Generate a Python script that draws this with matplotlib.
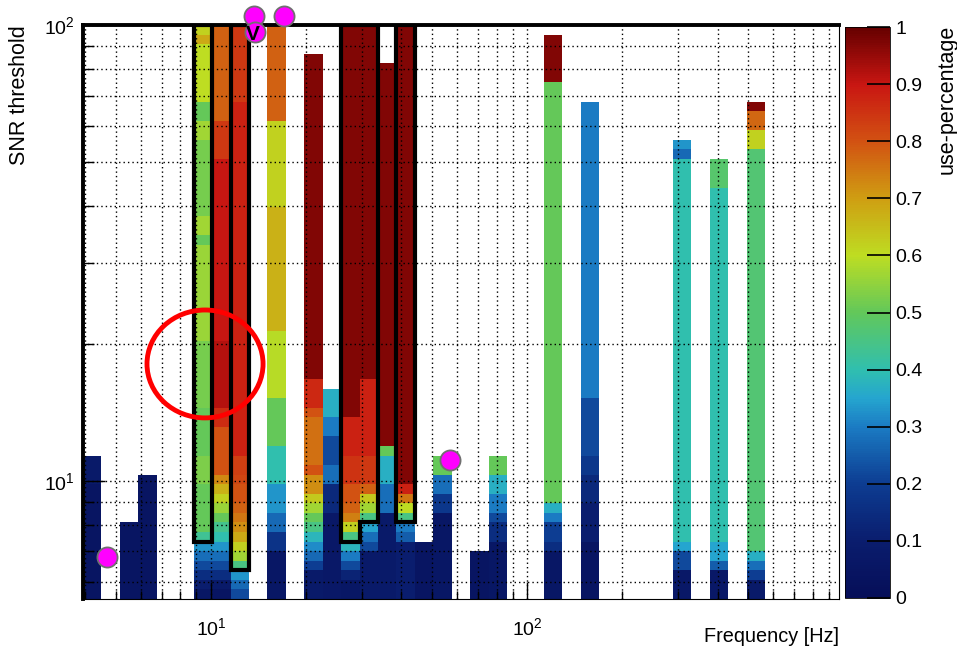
import numpy as np
import matplotlib
matplotlib.use('Agg')
import matplotlib.pyplot as plt
from matplotlib.colors import LinearSegmentedColormap
from matplotlib.patches import Ellipse, Polygon
from matplotlib.ticker import NullFormatter, FormatStrFormatter

plt.rcParams['font.family'] = ['Liberation Sans', 'DejaVu Sans']

# histogram binning (both axes log spaced)
f_lo, f_hi, n_fbins = 3.94, 968.0, 41
snr_lo, snr_hi, n_sbins = 5.5, 100.0, 60

# filled columns: (number of cells, use-percentage), from the lowest SNR bin upward
cells_b00 = [(12, 0.05), (3, 0.08)]
cells_b02 = [(8, 0.05)]
cells_b03 = [(13, 0.05)]
cells_b06 = [(1, 0.06), (1, 0.1), (1, 0.15), (1, 0.22), (1, 0.28), (1, 0.33), (1, 0.43),
             (5, 0.5), (3, 0.53), (5, 0.5), (7, 0.52), (10, 0.56), (1, 0.5), (2, 0.57),
             (8, 0.52), (2, 0.57), (2, 0.5), (6, 0.6), (1, 0.68), (1, 0.62)]
cells_b07 = [(1, 0.05), (1, 0.08), (1, 0.15), (1, 0.22), (1, 0.28), (1, 0.33), (1, 0.4),
             (1, 0.44), (1, 0.5), (1, 0.56), (1, 0.62), (1, 0.67), (1, 0.73), (5, 0.8),
             (2, 0.86), (7, 0.92), (19, 0.9), (4, 0.84), (10, 0.78)]
cells_b08 = [(1, 0.22), (1, 0.27), (1, 0.33), (1, 0.45), (1, 0.57), (1, 0.62), (1, 0.68),
             (1, 0.72), (1, 0.75), (1, 0.78), (2, 0.8), (1, 0.82), (2, 0.83), (37, 0.88),
             (8, 0.84)]
cells_b10 = [(5, 0.06), (2, 0.17), (2, 0.27), (3, 0.33), (4, 0.4), (5, 0.5), (7, 0.59),
             (13, 0.67), (9, 0.62), (10, 0.78)]
cells_b12 = [(3, 0.08), (1, 0.2), (1, 0.27), (1, 0.32), (1, 0.38), (1, 0.45), (1, 0.5),
             (1, 0.57), (1, 0.63), (2, 0.72), (1, 0.8), (5, 0.76), (1, 0.8), (3, 0.87),
             (34, 0.97)]
cells_b13 = [(9, 0.07), (3, 0.14), (2, 0.28), (3, 0.22), (2, 0.3), (3, 0.37)]
cells_b14 = [(2, 0.06), (1, 0.12), (1, 0.22), (1, 0.3), (1, 0.38), (1, 0.45), (1, 0.62),
             (1, 0.74), (1, 0.78), (2, 0.8), (3, 0.85), (4, 0.88), (41, 0.97)]
cells_b15 = [(5, 0.08), (1, 0.22), (1, 0.28), (1, 0.35), (1, 0.45), (1, 0.57), (1, 0.63),
             (1, 0.78), (3, 0.84), (8, 0.88), (37, 0.97)]
cells_b16 = [(9, 0.08), (3, 0.28), (3, 0.37), (1, 0.5), (40, 0.97)]
cells_b17 = [(6, 0.1), (1, 0.25), (1, 0.3), (1, 0.45), (1, 0.6), (1, 0.75), (1, 0.88),
             (48, 0.97)]
cells_b18 = [(6, 0.05)]
cells_b19 = [(9, 0.06), (2, 0.18), (2, 0.28), (2, 0.5)]
cells_b21 = [(5, 0.05)]
cells_b22 = [(6, 0.06), (2, 0.15), (1, 0.22), (2, 0.3), (2, 0.37), (2, 0.5)]
cells_b25 = [(5, 0.06), (1, 0.15), (2, 0.2), (1, 0.3), (1, 0.37), (44, 0.5), (5, 0.97)]
cells_b27 = [(6, 0.05), (4, 0.1), (3, 0.14), (2, 0.18), (6, 0.22), (31, 0.3)]
cells_b32 = [(3, 0.07), (2, 0.22), (1, 0.35), (40, 0.4), (1, 0.27), (1, 0.33)]
cells_b34 = [(3, 0.07), (1, 0.25), (2, 0.35), (37, 0.4), (3, 0.48)]
cells_b36 = [(2, 0.08), (1, 0.2), (1, 0.28), (1, 0.37), (42, 0.47), (2, 0.62), (2, 0.77),
             (1, 0.97)]

columns = {0: cells_b00, 2: cells_b02, 3: cells_b03, 6: cells_b06, 7: cells_b07,
           8: cells_b08, 10: cells_b10, 12: cells_b12, 13: cells_b13, 14: cells_b14,
           15: cells_b15, 16: cells_b16, 17: cells_b17, 18: cells_b18, 19: cells_b19,
           21: cells_b21, 22: cells_b22, 25: cells_b25, 27: cells_b27, 32: cells_b32,
           34: cells_b34, 36: cells_b36}

# highlighted regions: (frequency bin, first SNR bin inside the box)
box_1 = [(6, 6)]
box_2 = [(8, 3)]
box_3 = [(14, 6), (15, 8)]
box_4 = [(17, 8)]

# magenta markers (frequency, SNR)
dot_freq = [4.70, 13.7, 17.06, 13.8, 56.8]
dot_snr = [6.81, 104.6, 104.6, 96.5, 11.1]

# palette
pal_pos = [0.0, 0.1, 0.2, 0.3, 0.35, 0.4, 0.5, 0.6, 0.7, 0.8, 0.9, 1.0]
pal_col = ['#060e58', '#0a1d6e', '#0d3d92', '#1b7cc4', '#25a6cf', '#30bfae', '#62c85a',
           '#bedd22', '#cf9e12', '#d25212', '#c91612', '#660000']
cmap = LinearSegmentedColormap.from_list('usepct', list(zip(pal_pos, pal_col)))

f_edges = np.logspace(np.log10(f_lo), np.log10(f_hi), n_fbins + 1)
s_edges = np.logspace(np.log10(snr_lo), np.log10(snr_hi), n_sbins + 1)

Z = np.full((n_sbins, n_fbins), np.nan)
for b, cells in columns.items():
    vals = np.repeat([v for n, v in cells], [n for n, v in cells])
    Z[:len(vals), b] = vals
Z = np.ma.masked_invalid(Z)

fig = plt.figure(figsize=(9.57, 6.51), dpi=100)
ax = fig.add_axes([83/957, 52/651, 756/957, 574/651])
cax = fig.add_axes([845/957, 53/651, 45/957, 571/651])

mesh = ax.pcolormesh(f_edges, s_edges, Z, cmap=cmap, vmin=0, vmax=1,
                     shading='flat', antialiased=False, linewidth=0)
ax.set_xscale('log')
ax.set_yscale('log')
ax.set_xlim(f_edges[0], f_edges[-1])
ax.set_ylim(s_edges[0], s_edges[-1])

ax.grid(which='both', ls=(0, (1, 2.2)), color='k', lw=1.0)
ax.yaxis.set_minor_formatter(NullFormatter())
ax.xaxis.set_minor_formatter(NullFormatter())
ax.tick_params(axis='x', which='major', direction='in', length=12, width=1, labelsize=14, pad=13)
ax.tick_params(axis='x', which='minor', direction='in', length=6, width=1)
ax.tick_params(axis='y', which='major', direction='in', length=16, width=1, labelsize=14, pad=6)
ax.tick_params(axis='y', which='minor', direction='in', length=8, width=1)
for side in ['top', 'left']:
    ax.spines[side].set_linewidth(2.8)
for side in ['bottom', 'right']:
    ax.spines[side].set_linewidth(0.8)

# outlined boxes
def box_path(group):
    top = s_edges[-1]
    pts = [(f_edges[group[0][0]], top)]
    for b, r in group:
        pts.append((f_edges[b], s_edges[r]))
        pts.append((f_edges[b + 1], s_edges[r]))
    pts.append((f_edges[group[-1][0] + 1], top))
    return pts

for grp in [box_1, box_2, box_3, box_4]:
    ax.add_patch(Polygon(box_path(grp), closed=True, fill=False, ec='black',
                         lw=3.0, joinstyle='miter', zorder=3))

ax.add_patch(Ellipse((0.1614, 0.4095), 0.1535, 0.188, transform=ax.transAxes,
                     fill=False, ec='#ff0000', lw=3.5, zorder=5, clip_on=False))

for i in [0, 1, 2, 4, 3]:
    ax.plot(dot_freq[i], dot_snr[i], 'o', ms=14.5, mfc='#ff00ff', mec='#707070',
            mew=1.3, clip_on=False, zorder=10)
ax.text(13.55, 95.1, 'V', ha='center', va='center', fontsize=15, fontweight='bold',
        color='black', zorder=11, clip_on=False)

cb = fig.colorbar(mesh, cax=cax)
cb.set_ticks(np.arange(0, 1.01, 0.1))
cb.ax.yaxis.set_major_formatter(FormatStrFormatter('%g'))
cb.ax.minorticks_off()
cb.ax.tick_params(direction='in', length=16.5, width=1.2, labelsize=14, pad=4)
cb.outline.set_linewidth(0.6)

fig.text(20/957, 1 - 25/651, 'SNR threshold', rotation=90, ha='center', va='top', fontsize=15.5)
fig.text(839/957, 1 - 637/651, 'Frequency [Hz]', ha='right', va='center', fontsize=14.3)
fig.text(947/957, 1 - 25/651, 'use-percentage', rotation=90, ha='center', va='top', fontsize=15.5)

fig.savefig('out.png', dpi=100)
